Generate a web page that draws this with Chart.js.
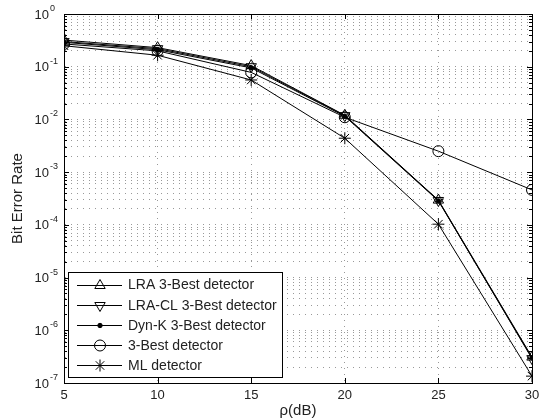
<!DOCTYPE html>
<html>
<head>
<meta charset="utf-8">
<script src="https://cdn.jsdelivr.net/npm/chart.js@4/dist/chart.umd.min.js"></script>
<style>
  body { margin: 0; background: #fff; }
  #berChart { display: block; }
</style>
</head>
<body>
<canvas id="berChart" width="541" height="420"></canvas>
<script>
const snrDb = [5, 10, 15, 20, 25, 30];
const berLRA = [0.32, 0.23, 0.105, 0.012, 2.95e-4, 3.1e-7];
const berLRACL = [0.30, 0.22, 0.10, 0.0118, 2.9e-4, 2.9e-7];
const berDynK = [0.29, 0.21, 0.095, 0.0115, 2.85e-4, 3.0e-7];
const ber3Best = [0.27, 0.20, 0.078, 0.011, 2.5e-3, 4.6e-4];
const berML = [0.25, 0.165, 0.056, 4.4e-3, 1.03e-4, 1.35e-7];

const seriesNames = ['LRA 3-Best detector', 'LRA-CL 3-Best detector', 'Dyn-K 3-Best detector', '3-Best detector', 'ML detector'];
const xTicks = [5, 10, 15, 20, 25, 30];
const yDecades = [0, -1, -2, -3, -4, -5, -6, -7];

const fontName = "'Liberation Sans', Arial, Helvetica, sans-serif";

// marker style per series, in the same order as seriesNames
const markers = [
  { pointStyle: 'triangle', radius: 6, rotation: 0 },
  { pointStyle: 'triangle', radius: 6, rotation: 180 },
  { pointStyle: 'circle', radius: 2.2, rotation: 0, filled: true },
  { pointStyle: 'circle', radius: 5.5, rotation: 0 },
  { pointStyle: 'star', radius: 6, rotation: 0 },
];

function makeDataset(i, values) {
  let m = markers[i];
  return {
    label: seriesNames[i],
    data: snrDb.map((x, k) => ({ x: x, y: values[k] })),
    borderColor: '#000',
    borderWidth: 1,
    pointStyle: m.pointStyle,
    pointRadius: m.radius,
    pointRotation: m.rotation,
    pointBorderColor: '#000',
    pointBorderWidth: 1,
    pointBackgroundColor: m.filled ? '#000' : 'rgba(0,0,0,0)',
    fill: false,
    tension: 0,
  };
}

function logTickValues() {
  let vals = [];
  for (let d = yDecades.length - 1; d >= 0; d -= 1) {
    let base = Math.pow(10, yDecades[d]);
    vals.push(base);
    if (d > 0) {
      for (let k = 2; k <= 9; k += 1) vals.push(k * base);
    }
  }
  return vals;
}

const matlabFrame = {
  id: 'matlabFrame',
  afterDraw(chart) {
    const ctx = chart.ctx;
    const a = chart.chartArea;
    const xs = chart.scales.x;
    const ys = chart.scales.y;
    ctx.save();
    // box
    ctx.strokeStyle = '#000';
    ctx.lineWidth = 1;
    ctx.strokeRect(Math.round(a.left) + 0.5, Math.round(a.top) + 0.5, Math.round(a.right - a.left), Math.round(a.bottom - a.top));

    // inward tick marks
    ctx.beginPath();
    for (let v of logTickValues()) {
      let y = Math.round(ys.getPixelForValue(v)) + 0.5;
      let len = yDecades.some(e => Math.abs(Math.log10(v) - e) < 1e-9) ? 5 : 3;
      ctx.moveTo(a.left, y); ctx.lineTo(a.left + len, y);
      ctx.moveTo(a.right, y); ctx.lineTo(a.right - len, y);
    }
    for (let t of xTicks) {
      let x = Math.round(xs.getPixelForValue(t)) + 0.5;
      ctx.moveTo(x, a.bottom); ctx.lineTo(x, a.bottom - 5);
      ctx.moveTo(x, a.top); ctx.lineTo(x, a.top + 5);
    }
    ctx.stroke();

    // y tick labels 10^n
    ctx.fillStyle = '#222';
    for (let e of yDecades) {
      let y = ys.getPixelForValue(Math.pow(10, e));
      ctx.font = '13px ' + fontName;
      ctx.textAlign = 'right';
      ctx.textBaseline = 'middle';
      ctx.fillText('10', 49, y + 1);
      ctx.font = '9px ' + fontName;
      ctx.textAlign = 'left';
      ctx.textBaseline = 'top';
      ctx.fillText(String(e), 50, y - 10);
    }

    // legend
    let lx = 68, ly = 272, lw = 214, lh = 105;
    ctx.fillStyle = '#fff';
    ctx.fillRect(lx, ly, lw, lh);
    ctx.strokeStyle = '#000';
    ctx.strokeRect(lx + 0.5, ly + 0.5, lw, lh);
    for (let i = 0; i < seriesNames.length; i += 1) {
      let y = ly + 12.5 + i * 20.2;
      let yy = Math.round(y) + 0.5;
      ctx.strokeStyle = '#000';
      ctx.lineWidth = 1;
      ctx.beginPath();
      ctx.moveTo(77, yy); ctx.lineTo(122, yy);
      ctx.stroke();
      let m = markers[i];
      ctx.fillStyle = m.filled ? '#000' : 'rgba(0,0,0,0)';
      if (Chart.helpers && Chart.helpers.drawPoint) {
        Chart.helpers.drawPoint(ctx, { pointStyle: m.pointStyle, radius: m.radius, rotation: m.rotation, borderWidth: 1 }, 100, yy);
      }
      ctx.fillStyle = '#222';
      ctx.font = '14px ' + fontName;
      ctx.textAlign = 'left';
      ctx.textBaseline = 'middle';
      ctx.fillText(seriesNames[i], 128, y + 1);
    }
    ctx.restore();
  }
};

new Chart(document.getElementById('berChart'), {
  type: 'line',
  data: {
    datasets: [
      makeDataset(0, berLRA),
      makeDataset(1, berLRACL),
      makeDataset(2, berDynK),
      makeDataset(3, ber3Best),
      makeDataset(4, berML),
    ]
  },
  options: {
    responsive: false,
    animation: false,
    events: [],
    layout: { padding: { top: 14, right: 9, left: 0, bottom: 0 } },
    plugins: {
      legend: { display: false },
      tooltip: { enabled: false },
    },
    scales: {
      x: {
        type: 'linear',
        min: 5,
        max: 30,
        afterBuildTicks: (scale) => { scale.ticks = xTicks.map(v => ({ value: v })); },
        afterFit: (scale) => { scale.height = 37; scale.paddingLeft = 0; scale.paddingRight = 0; },
        ticks: { color: '#222', font: { family: fontName, size: 13 }, padding: 5, maxRotation: 0 },
        grid: { color: '#999', lineWidth: 1, drawTicks: false },
        border: { display: true, color: '#000', width: 1, dash: [1, 5] },
        title: { display: true, text: 'ρ(dB)', color: '#222', font: { family: fontName, size: 15 }, padding: { top: 0, bottom: 0 } },
      },
      y: {
        type: 'logarithmic',
        min: 1e-7,
        max: 1,
        afterBuildTicks: (scale) => { scale.ticks = logTickValues().map(v => ({ value: v })); },
        afterFit: (scale) => { scale.width = 64; scale.paddingTop = 0; scale.paddingBottom = 0; },
        ticks: { display: false },
        grid: { color: '#999', lineWidth: 1, drawTicks: false },
        border: { display: true, color: '#000', width: 1, dash: [1, 5] },
        title: { display: true, text: 'Bit Error Rate', color: '#222', font: { family: fontName, size: 15 }, padding: { top: 9, bottom: 0 } },
      }
    }
  },
  plugins: [matlabFrame]
});
</script>
</body>
</html>
